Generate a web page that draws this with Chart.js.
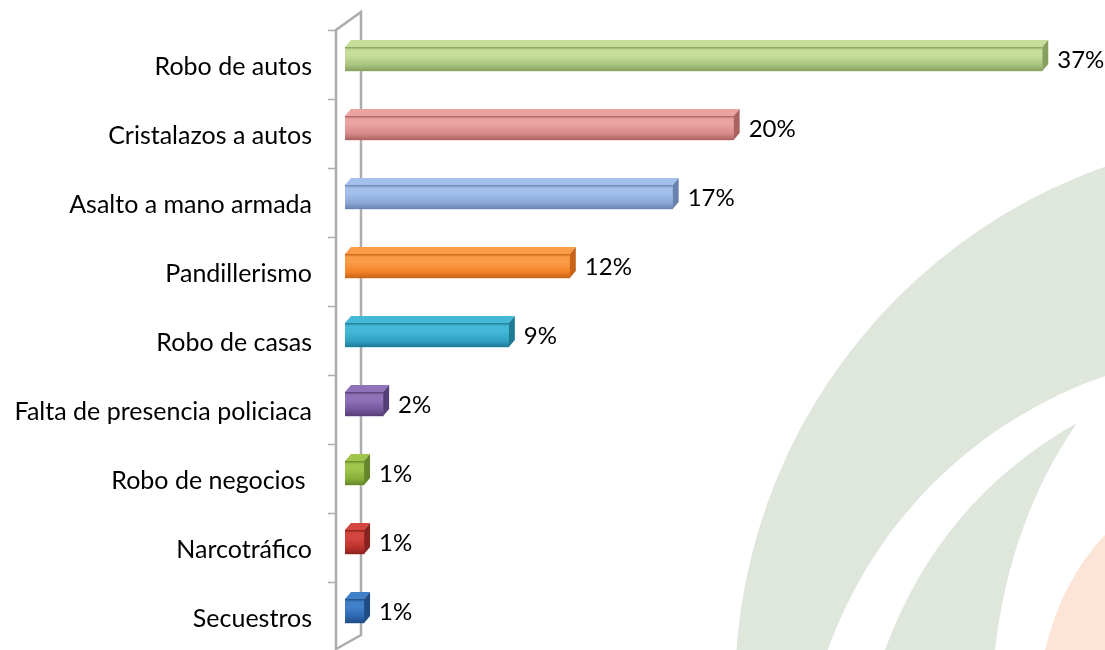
<!DOCTYPE html>
<html>
<head>
<meta charset="utf-8">
<script src="https://cdn.jsdelivr.net/npm/chart.js@4/dist/chart.umd.min.js"></script>
<style>
  html, body { margin: 0; padding: 0; background: #fff; }
  #wrap { width: 1105px; height: 650px; position: relative; }
</style>
</head>
<body>
<div id="wrap"><canvas id="myChart"></canvas></div>
<script>
// data
var categories = ['Robo de autos', 'Cristalazos a autos', 'Asalto a mano armada', 'Pandillerismo',
  'Robo de casas', 'Falta de presencia policiaca', 'Robo de negocios ', 'Narcotráfico', 'Secuestros'];
var values = [36.6, 20.4, 17.2, 11.8, 8.6, 2.0, 1.0, 1.0, 1.0];
var valueLabels = ['37%', '20%', '17%', '12%', '9%', '2%', '1%', '1%', '1%'];

// light, mid, dark per bar
var barColors = [
  ['#c6de9a', '#a8c37d', '#869f5f'],
  ['#eaa3a0', '#d68987', '#a9625f'],
  ['#a3c0ec', '#8aa6d7', '#6882ad'],
  ['#fb9c48', '#f28326', '#c8631a'],
  ['#45b8d8', '#2ea1c2', '#1f7a94'],
  ['#8f72b8', '#73559b', '#553d75'],
  ['#9fc54c', '#86ad37', '#65862a'],
  ['#d34640', '#b9302b', '#8a221f'],
  ['#3f80c8', '#2c66ad', '#1f4c83']
];

var FONT = 'Lato, "Open Sans", sans-serif';

// faint logo shapes behind the chart
var watermark = {
  id: 'watermark',
  beforeDraw: function(chart) {
    var ctx = chart.ctx;
    ctx.save();
    ctx.fillStyle = '#dfe6dc';
    ctx.beginPath();
    ctx.arc(1290, 690, 555, 0, Math.PI * 2);
    ctx.fill();
    ctx.fillStyle = '#ffffff';
    ctx.beginPath();
    ctx.arc(1250, 800, 448, 0, Math.PI * 2);
    ctx.fill();
    ctx.fillStyle = '#dfe6dc';
    ctx.beginPath();
    ctx.moveTo(1077, 423);
    ctx.quadraticCurveTo(940, 500, 885, 650);
    ctx.lineTo(995, 650);
    ctx.quadraticCurveTo(1010, 520, 1077, 423);
    ctx.fill();
    ctx.fillStyle = '#fce4d6';
    ctx.beginPath();
    ctx.moveTo(1105, 535);
    ctx.quadraticCurveTo(1062, 580, 1045, 650);
    ctx.lineTo(1105, 650);
    ctx.closePath();
    ctx.fill();
    ctx.restore();
  }
};

// 3d wall on the category axis
var wall = {
  id: 'wall',
  beforeDatasetsDraw: function(chart) {
    var ctx = chart.ctx, a = chart.chartArea;
    var L = a.left, T = a.top, B = a.bottom;
    ctx.save();
    ctx.strokeStyle = '#acacac';
    ctx.lineWidth = 2.5;
    ctx.beginPath();
    ctx.moveTo(L - 9, B + 4.5);
    ctx.lineTo(L - 9, T + 5.5);
    ctx.lineTo(L + 16, T - 12.5);
    ctx.lineTo(L + 16, B - 10.5);
    ctx.lineTo(L - 8, B + 3);
    ctx.stroke();
    ctx.lineWidth = 1.5;
    var step = (B - T) / categories.length;
    for (var i = 0; i <= categories.length; i++) {
      var ty = Math.round(T + i * step + 5.5) + 0.5;
      ctx.beginPath();
      ctx.moveTo(L - 17, ty);
      ctx.lineTo(L - 9, ty);
      ctx.stroke();
    }
    ctx.restore();
  }
};

// top and side faces, shaded front, value labels
var bars3d = {
  id: 'bars3d',
  afterDatasetsDraw: function(chart) {
    var ctx = chart.ctx;
    var meta = chart.getDatasetMeta(0);
    var dx = 6, dy = 7;
    ctx.save();
    meta.data.forEach(function(bar, i) {
      var p = bar.getProps(['x', 'y', 'base', 'height'], true);
      var c = barColors[i];
      var top = p.y - p.height / 2, bot = p.y + p.height / 2;
      var x0 = p.base, x1 = p.x;

      ctx.fillStyle = c[0];
      ctx.beginPath();
      ctx.moveTo(x0, top);
      ctx.lineTo(x0 + dx, top - dy);
      ctx.lineTo(x1 + dx, top - dy);
      ctx.lineTo(x1, top);
      ctx.closePath();
      ctx.fill();

      ctx.fillStyle = c[2];
      ctx.beginPath();
      ctx.moveTo(x1, top);
      ctx.lineTo(x1 + dx, top - dy);
      ctx.lineTo(x1 + dx, bot - dy);
      ctx.lineTo(x1, bot);
      ctx.closePath();
      ctx.fill();

      var g = ctx.createLinearGradient(0, top, 0, bot);
      g.addColorStop(0, c[2]);
      g.addColorStop(0.12, c[0]);
      g.addColorStop(0.35, c[0]);
      g.addColorStop(0.75, c[1]);
      g.addColorStop(1, c[2]);
      ctx.fillStyle = g;
      ctx.fillRect(x0, top, x1 - x0, bot - top);

      ctx.fillStyle = '#000';
      ctx.font = '24px ' + FONT;
      ctx.textAlign = 'left';
      ctx.textBaseline = 'middle';
      ctx.fillText(valueLabels[i], x1 + dx + 9, p.y + 1);
    });
    ctx.restore();
  }
};

var ctx1 = document.getElementById('myChart');
var myChart = new Chart(ctx1, {
  type: 'bar',
  data: {
    labels: categories,
    datasets: [{
      data: values,
      backgroundColor: barColors.map(function(c) { return c[1]; }),
      borderWidth: 0,
      barThickness: 24
    }]
  },
  options: {
    indexAxis: 'y',
    responsive: true,
    maintainAspectRatio: false,
    animation: false,
    layout: { padding: { top: 24.5, bottom: 4.5, right: 17, left: 0 } },
    plugins: {
      legend: { display: false },
      tooltip: { enabled: false }
    },
    scales: {
      x: { display: false, min: 0, max: 39 },
      y: {
        grid: { display: false, drawTicks: false },
        border: { display: false },
        ticks: {
          color: '#000',
          padding: 33,
          labelOffset: 8,
          font: { family: FONT, size: 25 }
        },
        afterFit: function(scale) {
          scale.width = 345;
          scale.paddingTop = 0;
          scale.paddingBottom = 0;
        }
      }
    }
  },
  plugins: [watermark, wall, bars3d]
});
</script>
</body>
</html>
